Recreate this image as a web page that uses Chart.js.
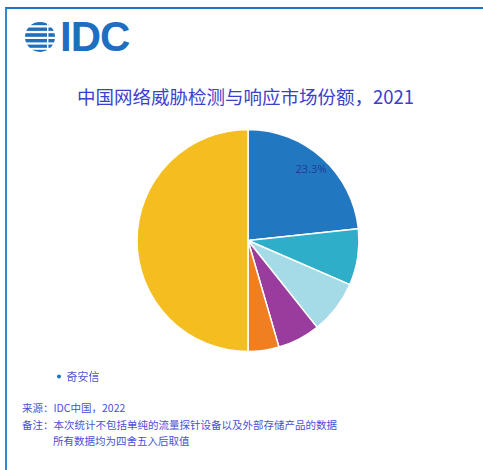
<!DOCTYPE html>
<html lang="zh-CN">
<head>
<meta charset="utf-8">
<script src="https://cdn.jsdelivr.net/npm/chart.js@4/dist/chart.umd.min.js"></script>
<style>
  html, body { margin: 0; padding: 0; background: #fff; }
  body { width: 483px; height: 470px; position: relative; overflow: hidden;
         font-family: "Noto Sans CJK SC", "Noto Sans", sans-serif; }
  .frame { position: absolute; left: 5px; top: 7px; right: -4px; bottom: -4px;
           border-top: 2px solid #1e73c0; border-left: 2px solid #3a86cc; }
  .logo { position: absolute; left: 24px; top: 18px; display: flex; align-items: center; }
  .logo span { font-family: "Liberation Sans", Arial, sans-serif; font-size: 42px; font-weight: 700;
               color: #1f6fbf; letter-spacing: -1px; margin-left: 4px; line-height: 38px; }
  .title { position: absolute; left: 0; width: 491px; top: 83px; text-align: center;
           font-size: 18.5px; color: #3b3fcc; }
  #wrap { position: absolute; left: 0; top: 108px; width: 483px; height: 290px; }
  .notes { position: absolute; left: 22px; top: 400px; font-size: 10.5px; line-height: 16.5px; color: #4b4fd6; }
  .notes .ind { padding-left: 31px; }
</style>
</head>
<body>
<div class="frame"></div>
<div class="logo">
  <svg width="32" height="34" viewBox="0 0 32 34">
    <defs><clipPath id="g"><circle cx="16" cy="17" r="15"/></clipPath></defs>
    <g clip-path="url(#g)" fill="#1f6fbf">
      <rect x="0" y="2" width="32" height="3.2"/>
      <rect x="0" y="7.5" width="32" height="3.4"/>
      <rect x="0" y="13.2" width="32" height="3.6"/>
      <rect x="0" y="19" width="32" height="3.4"/>
      <rect x="0" y="24.6" width="32" height="3.2"/>
      <rect x="0" y="29.8" width="32" height="3"/>
    </g>
    <rect x="23" y="0" width="1.4" height="34" fill="#fff"/>
  </svg>
  <span>IDC</span>
</div>
<div class="title">中国网络威胁检测与响应市场份额，2021</div>
<div id="wrap"><canvas id="pie"></canvas></div>
<div class="notes">
  <div>来源：IDC中国，2022</div>
  <div>备注：本次统计不包括单纯的流量探针设备以及外部存储产品的数据</div>
  <div class="ind">所有数据均为四舍五入后取值</div>
</div>
<script>
// 厂商份额（%），顺时针从 12 点开始
const vendors = ['奇安信', '厂商二', '厂商三', '厂商四', '厂商五', '其他'];
const shares  = [23.3, 8.2, 7.8, 6.2, 4.5, 50.0];
const colors  = ['#2177c0', '#2eaec8', '#a4dbe7', '#9a3c9d', '#f07f22', '#f4be21'];
const labelled = [0]; // 只标注第一块

const sliceLabel = {
  id: 'sliceLabel',
  afterDatasetsDraw(chart) {
    const { ctx } = chart;
    const meta = chart.getDatasetMeta(0);
    ctx.save();
    ctx.fillStyle = '#1b3f95';
    ctx.font = '11px "Noto Sans", "Liberation Sans", sans-serif';
    ctx.textAlign = 'center';
    ctx.textBaseline = 'middle';
    labelled.forEach((i) => {
      const arc = meta.data[i];
      const mid = (arc.startAngle + arc.endAngle) / 2;
      const r = arc.outerRadius * 0.85;
      ctx.fillText(shares[i].toFixed(1) + '%', arc.x + Math.cos(mid) * r, arc.y + Math.sin(mid) * r);
    });
    ctx.restore();
  },
};

new Chart(document.getElementById('pie'), {
  type: 'pie',
  data: {
    labels: vendors,
    datasets: [{
      data: shares,
      backgroundColor: colors,
      borderColor: '#ffffff',
      borderWidth: 1.5,
    }],
  },
  options: {
    responsive: true, maintainAspectRatio: false,
    animation: false,
    radius: 111,
    layout: { padding: { left: 47, right: 34, top: 12, bottom: 6 } },
    plugins: {
      legend: {
        position: 'bottom', align: 'start',
        labels: {
          filter: (item) => item.index === 0,
          usePointStyle: true, pointStyle: 'circle', boxWidth: 4, boxHeight: 4,
          padding: 10, color: '#4b4fd6',
          font: { family: '"Noto Sans CJK SC", sans-serif', size: 11 },
        },
      },
      tooltip: { enabled: false },
    },
  },
  plugins: [sliceLabel],
});
</script>
</body>
</html>
